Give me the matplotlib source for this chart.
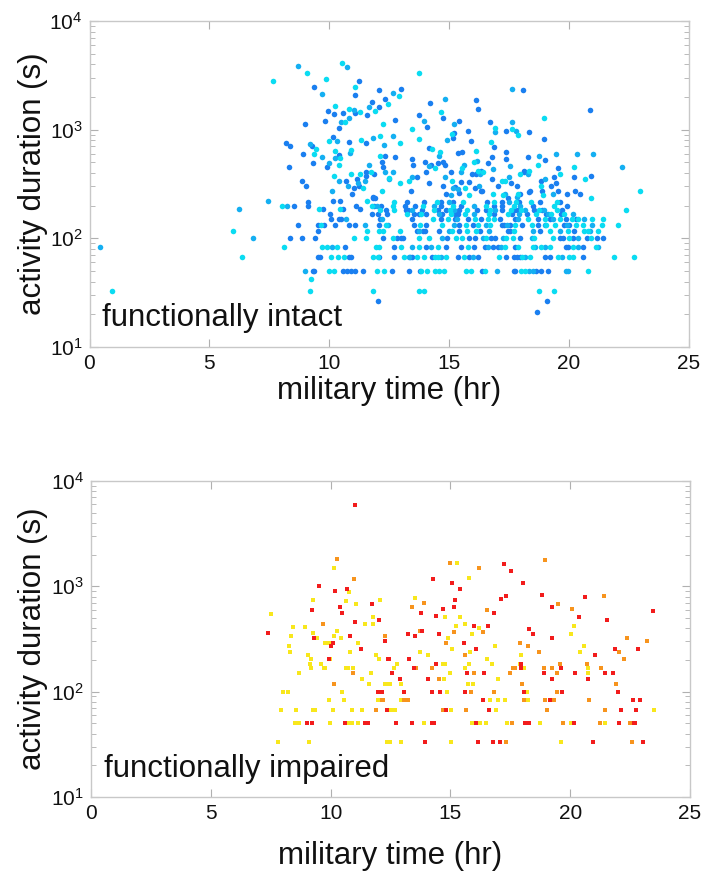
import matplotlib
matplotlib.use('Agg')
import matplotlib.pyplot as plt
import numpy as np
from matplotlib.ticker import LogLocator, NullFormatter

plt.rcParams['font.family'] = ['Liberation Sans', 'DejaVu Sans']

# ---- functionally intact: (time hr, duration s), one list per colour ----
intact_blue = [
    (9.37, 2450), (11.23, 2803), (11.09, 2070), (12.09, 2316), (12.35, 1927), (11.77, 1807),
    (12.08, 1604), (11.58, 1355), (11.08, 1413), (10.58, 1431), (10.2, 1393), (9.94, 1476),
    (9.84, 1200), (10.42, 1035), (8.98, 1119), (8.2, 748), (8.37, 711), (9.27, 706), (8.9, 592),
    (10.15, 849), (10.4, 580), (10.85, 764), (11.52, 748), (12.33, 575), (12.19, 506), (12.23, 456),
    (11.88, 390), (11.52, 404), (11.52, 377), (11.15, 351), (10.72, 336), (11.06, 288), (11.23, 303),
    (10.97, 255), (9.9, 456), (9.34, 489), (8.31, 456), (8.85, 339), (9.04, 304), (11.85, 238),
    (12.99, 2382), (12.76, 1233), (14.23, 1746), (14.74, 1271), (13.77, 1371), (14.09, 1050),
    (12.77, 560), (14.16, 682), (13.45, 540), (13.51, 472), (14.02, 506), (14.27, 472), (14.55, 492),
    (14.74, 506), (14.84, 472), (13.67, 368), (14.05, 407), (14.16, 320), (14.74, 304), (15.1, 404),
    (15.22, 937), (15.18, 832), (15.42, 1200), (15.39, 609), (15.55, 622), (15.78, 964), (16.12, 1874),
    (16.23, 1560), (15.94, 780), (15.95, 390), (16.12, 395), (16.34, 413), (15.49, 327), (15.26, 297),
    (16.08, 288), (16.35, 270), (16.4, 270), (16.7, 1183), (16.9, 692), (16.78, 556), (16.65, 489),
    (16.81, 351), (17.37, 622), (17.38, 540), (17.37, 964), (18.09, 2300), (18.33, 950), (18.95, 814),
    (20.87, 1515), (18.3, 560), (18.15, 419), (18.15, 404), (17.59, 322), (17.85, 304), (19.01, 525),
    (18.84, 336), (18.87, 270), (19.28, 304), (19.37, 368), (19.55, 440), (19.48, 320), (19.55, 270),
    (19.94, 255), (20.22, 368), (20.27, 272), (20.49, 255), (20.94, 372), (13.42, 270), (15.85, 330),
    (18.4, 270), (14.88, 254), (15.44, 260), (17.03, 304), (17.47, 235), (17.95, 256), (18.35, 267),
    (8.55, 200), (9.13, 217), (9.13, 200), (8.35, 100), (8.69, 133), (8.85, 100), (9.4, 100),
    (12.03, 26.6), (10.05, 167), (10.09, 150), (10.4, 150), (10.5, 150), (10.25, 133), (10.85, 133),
    (11.08, 133), (10.6, 186), (10.15, 219), (10.45, 219), (11.12, 200), (11.31, 186), (11.87, 200),
    (11.77, 167), (11.84, 233), (11.9, 233), (12.06, 167), (9.55, 117), (9.75, 186), (9.55, 133),
    (9.78, 133), (9.33, 50), (9.38, 50), (10.59, 50), (10.76, 50), (10.92, 50), (11.09, 50),
    (11.43, 50), (9.55, 67), (9.63, 67), (10.83, 67), (10.92, 67), (10.65, 83),
    (19.08, 26.6), (18.66, 20.8),
    # rows
    (12.63, 50), (13.35, 50), (13.78, 50), (16.38, 50), (17.71, 50), (17.76, 50), (18.63, 50),
    (18.83, 50), (19.13, 50),
    (12.10, 67), (12.70, 67), (13.38, 67), (13.46, 67), (14.29, 67), (15.40, 67), (15.83, 67),
    (16.23, 67), (17.37, 67), (17.70, 67), (17.84, 67), (17.95, 67), (19.02, 67), (19.24, 67),
    (20.58, 67),
    (12.70, 83), (14.03, 83), (14.88, 83), (15.51, 83), (16.03, 83), (16.49, 83), (16.83, 83),
    (17.03, 83), (17.76, 83), (19.90, 83), (19.98, 83), (20.59, 83),
    (12.24, 100), (12.83, 100), (12.99, 100), (13.10, 100), (14.91, 100), (15.84, 100), (16.08, 100),
    (16.76, 100), (16.92, 100), (17.95, 100), (19.65, 100), (19.78, 100), (20.20, 100), (20.76, 100),
    (21.19, 100), (21.44, 100),
    (13.66, 117), (13.91, 117), (14.01, 117), (14.60, 117), (15.44, 117), (16.31, 117), (17.45, 117),
    (17.55, 117), (18.79, 117), (20.22, 117),
    (12.10, 133), (13.56, 133), (14.05, 133), (15.44, 133), (15.99, 133), (17.22, 133), (17.31, 133),
    (17.56, 133), (18.04, 133), (18.70, 133), (19.81, 133), (20.02, 133),
    (12.12, 150), (13.45, 150), (14.69, 150), (15.26, 150), (15.80, 150), (16.34, 150), (17.15, 150),
    (17.76, 150), (18.73, 150), (19.22, 150), (19.90, 150), (20.29, 150),
    (12.41, 167), (13.53, 167), (13.74, 167), (14.05, 167), (14.73, 167), (15.24, 167), (15.37, 167),
    (16.90, 167), (17.63, 167), (18.28, 167), (19.06, 167), (19.67, 167),
    (12.38, 183), (13.19, 183), (13.30, 183), (13.88, 183), (14.53, 183), (14.87, 183), (15.44, 183),
    (16.17, 183), (16.53, 183), (17.21, 183), (17.77, 183), (17.87, 183), (18.56, 183), (18.90, 183),
    (19.74, 183),
    (12.15, 200), (13.17, 200), (13.58, 200), (14.69, 200), (15.49, 200), (16.90, 200), (17.20, 200),
    (18.51, 200), (19.91, 200),
    (13.26, 217), (13.95, 217), (14.66, 217), (15.17, 217), (16.59, 217), (17.23, 217), (17.94, 217),
    (18.81, 217), (19.63, 217),
]

intact_mid = [
    (8.7, 3855), (9.72, 2113), (10.74, 3745), (11.67, 1626), (11.05, 1515), (10.84, 1288),
    (10.48, 1183), (9.19, 741), (9.69, 560), (10.31, 780), (10.23, 547), (10.88, 609), (11.84, 832),
    (12.31, 726), (12.35, 404), (11.66, 472), (11.48, 339), (11.22, 324), (10.8, 304), (10.41, 336),
    (9.98, 489), (10.12, 270),
    (12.67, 2173), (14.85, 1914), (13.98, 1200), (12.66, 879), (12.65, 404), (12.52, 351),
    (14.59, 575), (14.15, 459), (13.48, 368), (14.83, 368), (14.92, 802), (15.2, 1132), (15.65, 475),
    (15.49, 404), (16.19, 517), (16.28, 390), (15.39, 286), (16.26, 304), (16.91, 957), (16.85, 437),
    (17.65, 1167), (17.78, 971), (17.65, 2366), (17.57, 459), (18.31, 392), (17.49, 368),
    (18.76, 575), (19.01, 351), (19.48, 592), (19.34, 255), (20.34, 592), (21.03, 592), (22.23, 456),
    (15.1, 251), (17.36, 255), (15.16, 290), (17.84, 239),
    (0.45, 83), (6.24, 186), (6.83, 100), (7.45, 219), (8.25, 200), (10.7, 150), (11.49, 133),
    (11.98, 200), (9.0, 50), (10.12, 83),
    (17.02, 50), (18.34, 50), (18.52, 50), (19.87, 50), (19.98, 50),
    (13.33, 67), (14.67, 67), (16.02, 67), (18.16, 67), (19.72, 67),
    (13.46, 83), (14.27, 83), (16.62, 83), (17.19, 83), (18.60, 83), (19.01, 83), (20.40, 83),
    (21.23, 83),
    (14.73, 100), (16.41, 100), (17.27, 100), (18.45, 100), (20.40, 100),
    (13.76, 117), (15.01, 117), (16.69, 117), (18.52, 117), (19.62, 117), (20.88, 117),
    (12.45, 133), (15.22, 133), (16.56, 133), (17.42, 133), (19.01, 133), (19.92, 133), (20.97, 133),
    (12.21, 150), (15.34, 150), (17.90, 150), (19.35, 150), (20.63, 150),
    (14.60, 167), (16.03, 167), (17.94, 167), (19.12, 167), (20.16, 167),
    (13.46, 183), (15.22, 183), (16.92, 183), (18.17, 183), (18.98, 183),
    (14.37, 200), (16.05, 200), (17.98, 200),
    (14.99, 217), (17.52, 217),
]

intact_cyan = [
    (7.66, 2803), (9.09, 3342), (9.87, 2924), (10.52, 4130), (11.1, 2450), (12.45, 1721),
    (11.91, 1483), (11.31, 1462), (10.83, 1549), (10.67, 1183), (10.24, 1660), (12.26, 1119),
    (9.47, 659), (9.35, 592), (9.98, 780), (10.24, 640), (10.44, 544), (10.92, 645), (11.35, 796),
    (12.12, 879), (12.12, 575), (12.49, 356), (11.74, 407), (11.3, 390), (10.9, 387), (11.41, 288),
    (10.19, 374), (10.42, 475), (12.22, 270),
    (13.76, 3299), (12.91, 2051), (13.44, 1019), (14.65, 1443), (13.77, 814), (12.97, 758),
    (12.97, 322), (14.29, 659), (14.63, 626), (14.43, 440), (13.35, 336), (15.13, 336), (15.12, 917),
    (16.13, 640), (15.53, 440), (16.06, 506), (16.23, 413), (16.42, 407), (15.66, 288), (16.94, 1028),
    (16.76, 774), (17.2, 336), (17.64, 1019), (17.87, 898), (18.97, 1288), (18.33, 419), (17.95, 390),
    (17.35, 339), (18.72, 472), (18.85, 303), (19.63, 390), (20.22, 456), (20.67, 353), (20.94, 234),
    (22.99, 270), (16.85, 255), (17.9, 255), (15.83, 252), (17.27, 250), (18.94, 252),
    (0.95, 33), (5.98, 117), (6.37, 67), (8.03, 200), (8.12, 83), (9.24, 42), (9.22, 33), (11.82, 33),
    (10.45, 186), (11.06, 100), (11.56, 100), (11.6, 117), (11.6, 219), (11.77, 200), (9.58, 186),
    (9.67, 133), (9.99, 50), (10.2, 50), (12.0, 50), (10.1, 67), (10.38, 67), (10.62, 67), (11.82, 67),
    (12.05, 67), (9.7, 83), (9.91, 83), (10.31, 83), (11.95, 83),
    (13.76, 33), (13.95, 33), (18.76, 33), (19.4, 33),
    (12.3, 50), (13.85, 50), (14.08, 50), (14.42, 50), (14.58, 50), (14.78, 50), (15.73, 50),
    (15.92, 50), (16.52, 50), (18.02, 50), (18.19, 50), (20.79, 50),
    (13.12, 67), (13.67, 67), (13.94, 67), (14.41, 67), (14.55, 67), (14.87, 67), (15.63, 67),
    (17.09, 67), (18.05, 67), (18.40, 67), (19.56, 67), (20.03, 67), (20.20, 67), (21.87, 67),
    (22.74, 67),
    (12.10, 83), (12.98, 83), (13.77, 83), (14.55, 83), (15.79, 83), (17.35, 83), (17.88, 83),
    (18.49, 83), (18.83, 83), (19.20, 83), (20.20, 83), (21.15, 83),
    (12.66, 100), (13.76, 100), (14.15, 100), (15.31, 100), (15.53, 100), (16.53, 100), (17.40, 100),
    (17.67, 100), (18.56, 100), (19.34, 100), (20.01, 100), (20.92, 100),
    (12.10, 117), (12.23, 117), (12.94, 117), (15.15, 117), (15.74, 117), (16.13, 117), (17.70, 117),
    (19.20, 117), (19.97, 117), (20.63, 117), (20.80, 117), (21.23, 117),
    (12.38, 133), (13.80, 133), (14.73, 133), (15.73, 133), (16.20, 133), (16.73, 133), (17.76, 133),
    (18.45, 133), (19.05, 133), (19.44, 133), (20.30, 133), (20.59, 133), (21.38, 133), (22.05, 133),
    (14.34, 150), (14.98, 150), (16.08, 150), (16.62, 150), (16.88, 150), (18.31, 150), (18.99, 150),
    (19.63, 150), (20.15, 150), (20.40, 150), (20.97, 150), (21.45, 150),
    (13.26, 167), (13.83, 167), (15.08, 167), (15.67, 167), (16.69, 167), (17.47, 167), (18.63, 167),
    (19.26, 167), (19.81, 167), (22.40, 183),
    (12.13, 183), (12.69, 183), (14.37, 183), (15.05, 183), (15.76, 183), (16.73, 183), (17.59, 183),
    (17.99, 183), (18.74, 183), (19.51, 183),
    (12.67, 200), (13.91, 200), (15.17, 200), (16.55, 200), (17.73, 200), (19.37, 200),
    (12.70, 217), (14.52, 217), (15.58, 217), (16.88, 217), (17.81, 217), (18.42, 217), (19.51, 217),
]

# ---- functionally impaired ----
impaired_red = [
    (11.01, 5957), (9.53, 1000), (10.17, 896), (10.7, 949), (11.73, 679), (7.39, 357), (9.23, 592),
    (10.41, 631), (10.48, 557), (11.01, 458), (12.03, 475), (9.3, 321), (10.81, 340), (12.26, 304),
    (10.09, 287), (10.01, 271), (11.27, 254), (9.92, 204), (12.41, 204),
    (11.97, 100), (12.14, 100), (12.35, 67), (9.02, 50), (9.24, 50), (10.62, 50), (11.45, 50),
    (11.57, 50),
    (17.23, 1618), (17.52, 1397), (14.29, 1172), (15.06, 1066), (15.38, 936), (18.02, 1082),
    (15.18, 746), (17.1, 762), (17.3, 815), (18.84, 832), (20.63, 797), (14.71, 613), (15.13, 631),
    (13.78, 557), (14.39, 526), (16.81, 557), (19.26, 641), (20.35, 512), (21.52, 475), (23.44, 578),
    (16.0, 423), (16.58, 423), (18.29, 391), (18.45, 355), (13.24, 355), (13.53, 340), (13.82, 373),
    (14.52, 355), (15.56, 287), (19.24, 321), (16.08, 254), (21.88, 254), (22.84, 254), (21.04, 221),
    (12.43, 204), (13.28, 204), (14.39, 185), (17.95, 185), (13.46, 167), (19.6, 167),
    (12.56, 150), (12.91, 133), (14.06, 133), (15.7, 150), (16.4, 150), (18.91, 150), (19.24, 133),
    (20.18, 150), (20.74, 133), (21.46, 150), (21.8, 150), (21.98, 100), (13.08, 100), (14.24, 100),
    (14.55, 100), (15.63, 100), (18.08, 100), (19.67, 100), (16.37, 83), (19.17, 83), (22.61, 83),
    (22.91, 83), (14.82, 67), (16.62, 67), (22.12, 67), (22.76, 67), (12.71, 50), (13.4, 50),
    (14.22, 50), (14.3, 50), (16.06, 50), (18.12, 50), (18.29, 50), (20.15, 50), (22.02, 50),
    (22.65, 50), (22.72, 50), (13.92, 33), (16.14, 33), (16.77, 33), (17.09, 33), (20.96, 33),
    (23.05, 33), (17.95, 167),
]

impaired_orange = [
    (10.26, 1817), (10.99, 1180), (9.69, 441), (12.26, 340),
    (10.94, 150), (10.15, 117), (12.14, 83), (11.9, 67),
    (14.99, 1665), (16.19, 1503), (18.96, 1790), (21.39, 815), (13.4, 631), (13.88, 694),
    (16.53, 596), (19.47, 679), (20.08, 613), (13.72, 373), (15.14, 370), (16.34, 370), (14.83, 287),
    (17.9, 287), (18.23, 271), (22.37, 321), (23.19, 304), (18.69, 238), (22.05, 238), (15.62, 221),
    (19.58, 185), (20.72, 185), (22.24, 204), (13.57, 167), (14.25, 167), (17.63, 167), (19.26, 167),
    (21.28, 167),
    (14.52, 133), (16.0, 150), (17.5, 150), (18.0, 117), (19.45, 150), (21.3, 167), (21.92, 117),
    (15.84, 100), (16.8, 100), (19.46, 100), (12.18, 83), (13.08, 83), (13.24, 83), (18.09, 83),
    (18.95, 83), (19.33, 83), (20.8, 83), (14.69, 67), (15.64, 67), (19.03, 67), (21.45, 67),
    (17.56, 50), (19.71, 50), (21.24, 50), (22.51, 50), (17.31, 33), (22.58, 33), (18.92, 167),
    (17.7, 167),
]

impaired_yellow = [
    (10.13, 1493), (10.76, 883), (9.28, 746), (10.65, 730), (11.04, 679), (12.08, 746), (7.52, 542),
    (11.43, 441), (11.77, 441), (11.79, 512), (8.42, 407), (8.95, 407), (8.35, 340), (9.28, 357),
    (9.45, 321), (10.27, 373), (10.13, 340), (10.43, 321), (9.78, 287), (9.92, 287), (11.13, 287),
    (8.27, 271), (8.3, 238), (10.83, 238), (9.07, 221), (9.19, 204), (9.99, 204), (11.9, 221),
    (12.03, 204), (9.14, 185), (9.59, 185), (9.19, 167), (9.73, 167), (9.78, 167), (10.63, 167),
    (10.74, 167), (10.94, 167),
    (8.68, 150), (11.31, 133), (11.68, 150), (11.6, 117), (12.33, 117), (8.03, 100), (8.22, 100),
    (10.47, 100), (9.95, 83), (10.55, 83), (11.97, 83), (7.92, 67), (8.56, 67), (9.26, 67), (9.34, 67),
    (10.08, 67), (10.91, 67), (11.33, 67), (8.52, 50), (8.68, 50), (9.99, 50), (10.76, 50), (10.9, 50),
    (11.16, 50), (7.82, 33), (9.1, 33), (12.37, 33),
    (15.27, 1653), (15.78, 1191), (13.51, 780), (14.79, 512), (15.4, 512), (15.23, 423), (15.6, 441),
    (16.2, 405), (20.17, 423), (15.92, 355), (20.05, 355), (14.9, 321), (16.87, 271), (15.06, 254),
    (13.74, 238), (15.81, 238), (20.41, 238), (20.58, 271), (14.08, 221), (17.95, 221), (12.79, 185),
    (14.68, 185), (14.79, 185), (15.78, 185), (16.53, 204), (16.72, 185), (17.92, 185), (12.64, 167),
    (15.6, 167), (18.08, 167), (20.74, 167),
    (14.97, 150), (14.75, 133), (16.97, 133), (14.85, 100), (18.19, 100), (12.28, 117), (12.48, 117),
    (12.95, 117), (15.72, 117), (15.96, 117), (12.93, 83), (16.66, 83), (17.0, 83), (17.27, 83),
    (18.23, 83), (12.39, 67), (12.51, 67), (12.68, 67), (15.02, 67), (16.9, 67), (23.5, 67),
    (13.9, 50), (15.92, 50), (16.25, 50), (16.48, 50), (17.37, 50), (18.75, 50), (20.05, 50),
    (21.46, 50), (12.46, 33), (12.93, 33), (15.02, 33), (19.62, 33), (20.74, 150),
]

x_ticks = [0, 5, 10, 15, 20, 25]

fig = plt.figure(figsize=(7.02, 8.73), dpi=100)
ax1 = fig.add_axes([89.5 / 702, 1 - 347 / 873, 599 / 702, 326 / 873])
ax2 = fig.add_axes([91 / 702, 1 - 797 / 873, 599 / 702, 316 / 873])

for pts, col in [(intact_blue, '#1a7ff0'), (intact_mid, '#14aff2'), (intact_cyan, '#0adcf2')]:
    a = np.array(pts)
    ax1.scatter(a[:, 0], a[:, 1], s=16, c=col, marker='o', linewidths=0, zorder=3)

for pts, col in [(impaired_yellow, '#f8e71c'), (impaired_orange, '#f7941d'), (impaired_red, '#f21c1c')]:
    a = np.array(pts)
    ax2.scatter(a[:, 0], a[:, 1], s=10, c=col, marker='s', linewidths=0, zorder=3)


def style(ax, label, pad):
    ax.set_yscale('log')
    ax.set_xlim(0, 25)
    ax.set_ylim(10, 1e4)
    ax.set_xticks(x_ticks)
    ax.yaxis.set_major_locator(LogLocator(base=10, numticks=10))
    ax.yaxis.set_minor_locator(LogLocator(base=10, subs=np.arange(2, 10), numticks=20))
    ax.yaxis.set_minor_formatter(NullFormatter())
    for s in ax.spines.values():
        s.set_color('#c8c8c8')
        s.set_linewidth(1.0)
    ax.tick_params(which='both', direction='in', top=True, right=True, color='#b0b0b0',
                   labelsize=15, labelcolor='#111111')
    ax.tick_params(which='major', length=6, width=0.8, pad=5)
    ax.tick_params(which='minor', length=3.5, width=0.6)
    ax.set_xlabel('military time (hr)', fontsize=22.5, labelpad=pad, color='#111111')
    ax.set_ylabel('activity duration (s)', fontsize=22.5, color='#111111')
    ax.text(0.021, 0.064, label, transform=ax.transAxes, fontsize=22.5, va='baseline', ha='left',
            color='#111111')


style(ax1, 'functionally intact', 2)
style(ax2, 'functionally impaired', 13)
ax1.yaxis.set_label_coords(-0.07, 0.5)
ax2.yaxis.set_label_coords(-0.072, 0.5)

fig.savefig('out.png', dpi=100)
